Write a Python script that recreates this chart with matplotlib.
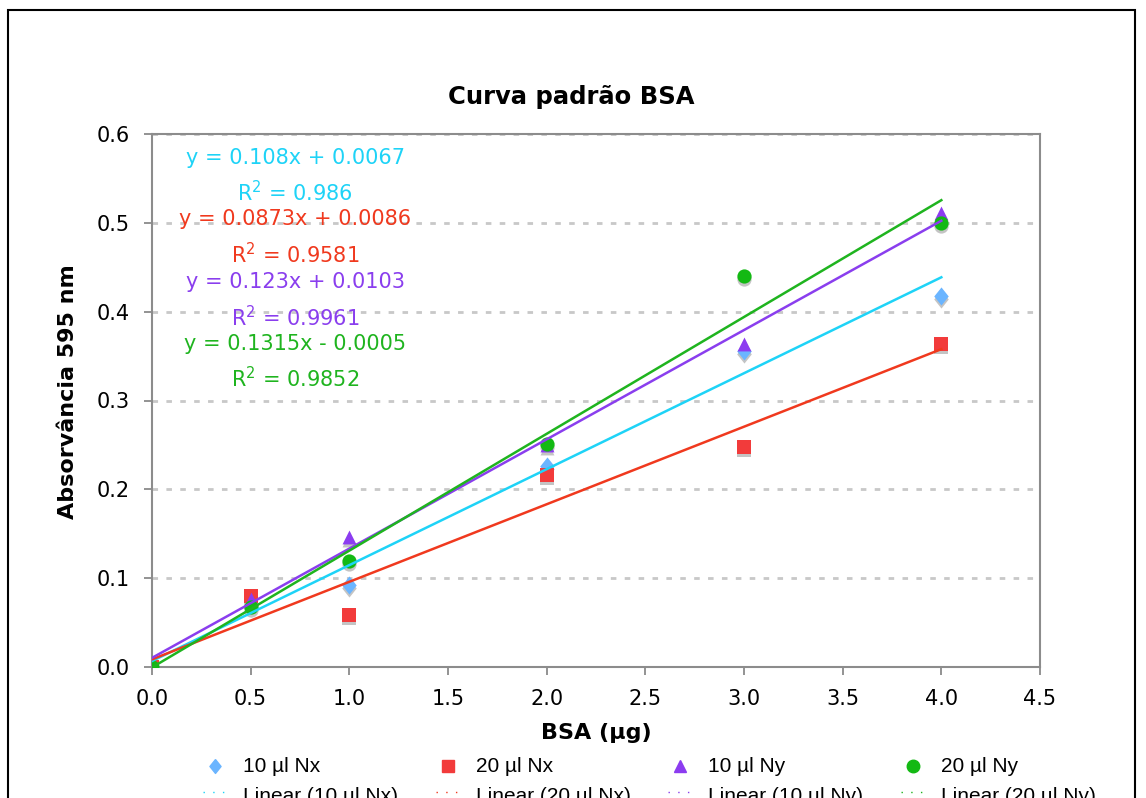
import numpy as np
import matplotlib
matplotlib.use("Agg")
import matplotlib.pyplot as plt
from matplotlib.lines import Line2D
from matplotlib.transforms import offset_copy

plt.rcParams['font.family'] = ['DejaVu Sans']

# data
bsa = [0.0, 0.5, 1.0, 2.0, 3.0, 4.0]
nx10 = [0.0, 0.070, 0.092, 0.226, 0.356, 0.418]
nx20 = [0.0, 0.080, 0.058, 0.216, 0.248, 0.364]
ny10 = [0.0, 0.076, 0.146, 0.250, 0.364, 0.511]
ny20 = [0.0, 0.068, 0.119, 0.251, 0.440, 0.500]

series_names = ["10 µl Nx", "20 µl Nx", "10 µl Ny", "20 µl Ny"]
slopes = [0.108, 0.0873, 0.123, 0.1315]
intercepts = [0.0067, 0.0086, 0.0103, -0.0005]
r2 = ["0.986", "0.9581", "0.9961", "0.9852"]
eq_text = ["y = 0.108x + 0.0067", "y = 0.0873x + 0.0086",
           "y = 0.123x + 0.0103", "y = 0.1315x - 0.0005"]

marker_colors = ["#6BB5FF", "#F23B3B", "#8C3CF0", "#13B913"]
line_colors = ["#1ED3F7", "#F0391E", "#8A3EEE", "#1FB41F"]
diamond = [(0, 1), (0.8, 0), (0, -1), (-0.8, 0), (0, 1)]
markers = [diamond, "s", "^", "o"]
msizes = [170, 100, 100, 105]

W, H = 1146, 798
fig = plt.figure(figsize=(W / 100, H / 100), dpi=100)
ax = fig.add_axes([152 / W, 1 - 667 / H, 888 / W, 533 / H])

# outer chart frame (cut at the bottom)
fig.add_artist(plt.Rectangle((8 / W, -0.05), 1127 / W, 1.05 - 10 / H,
                             transform=fig.transFigure, fill=False,
                             edgecolor="black", linewidth=1.5))

shadow = offset_copy(ax.transData, fig=fig, x=0, y=-3, units="dots")
all_y = [nx10, nx20, ny10, ny20]
xline = np.array([0.0, 4.0])
for i in range(4):
    ax.scatter(bsa, all_y[i], s=msizes[i], marker=markers[i], color="#C4C4C4",
               transform=shadow, zorder=3, linewidths=0)
    ax.scatter(bsa, all_y[i], s=msizes[i], marker=markers[i],
               color=marker_colors[i], zorder=4, linewidths=0)
for i in range(4):
    ax.plot(xline, slopes[i] * xline + intercepts[i], color=line_colors[i],
            linewidth=1.8, zorder=5)

ax.set_xlim(0, 4.5)
ax.set_ylim(0, 0.6)
xt = np.arange(0, 4.51, 0.5)
yt = np.arange(0, 0.61, 0.1)
ax.set_xticks(xt)
ax.set_yticks(yt)
ax.set_xticklabels([f"{v:.1f}" for v in xt])
ax.set_yticklabels([f"{v:.1f}" for v in yt])
ax.tick_params(labelsize=15, colors="#808080", labelcolor="black", length=6,
               width=1.2, pad=10)
for sp in ax.spines.values():
    sp.set_color("#8C8C8C")
    sp.set_linewidth(1.5)
ax.grid(axis="y", color="#C8C8C8", linestyle=(0, (2, 3)), linewidth=2)
ax.set_axisbelow(True)

fig.text(571 / W, 1 - 97 / H, "Curva padrão BSA", fontsize=17.5,
         fontweight="bold", ha="center", va="center")
ax.set_xlabel("BSA (µg)", fontsize=16, fontweight="bold", labelpad=10)
ax.set_ylabel("Absorvância 595 nm", fontsize=16, fontweight="bold")
ax.yaxis.set_label_coords((78 - 152) / 888, (667 - 392) / 533)

# trendline equations
eq_y = [158, 219, 282, 344]
r_y = [193, 255, 318, 379]
for i in range(4):
    fig.text(295 / W, 1 - eq_y[i] / H, eq_text[i], color=line_colors[i],
             fontsize=15, ha="center", va="center")
    fig.text(295 / W, 1 - r_y[i] / H, "R$^2$ = " + r2[i], color=line_colors[i],
             fontsize=15, ha="center", va="center")

# legend (second row is cut by the figure edge, as in the original)
leg_x = [215, 448, 680, 913]
for i in range(4):
    fig.add_artist(Line2D([leg_x[i] / W], [1 - 766 / H], linestyle="none",
                          marker=markers[i], color=marker_colors[i],
                          markersize=10 if i == 0 else 9,
                          transform=fig.transFigure))
    fig.text((leg_x[i] + 28) / W, 1 - 766 / H, series_names[i], fontsize=15,
             family=["Liberation Sans", "DejaVu Sans"], ha="left", va="center")
    fig.add_artist(Line2D([(leg_x[i] - 12) / W, (leg_x[i] + 12) / W],
                          [1 - 792 / H, 1 - 792 / H], color=line_colors[i],
                          linestyle=(0, (1, 6)), linewidth=1,
                          transform=fig.transFigure))
    fig.text((leg_x[i] + 28) / W, 1 - 797 / H, "Linear (" + series_names[i] + ")",
             fontsize=15, family=["Liberation Sans", "DejaVu Sans"],
             ha="left", va="center")

fig.savefig("out.png", dpi=100)
